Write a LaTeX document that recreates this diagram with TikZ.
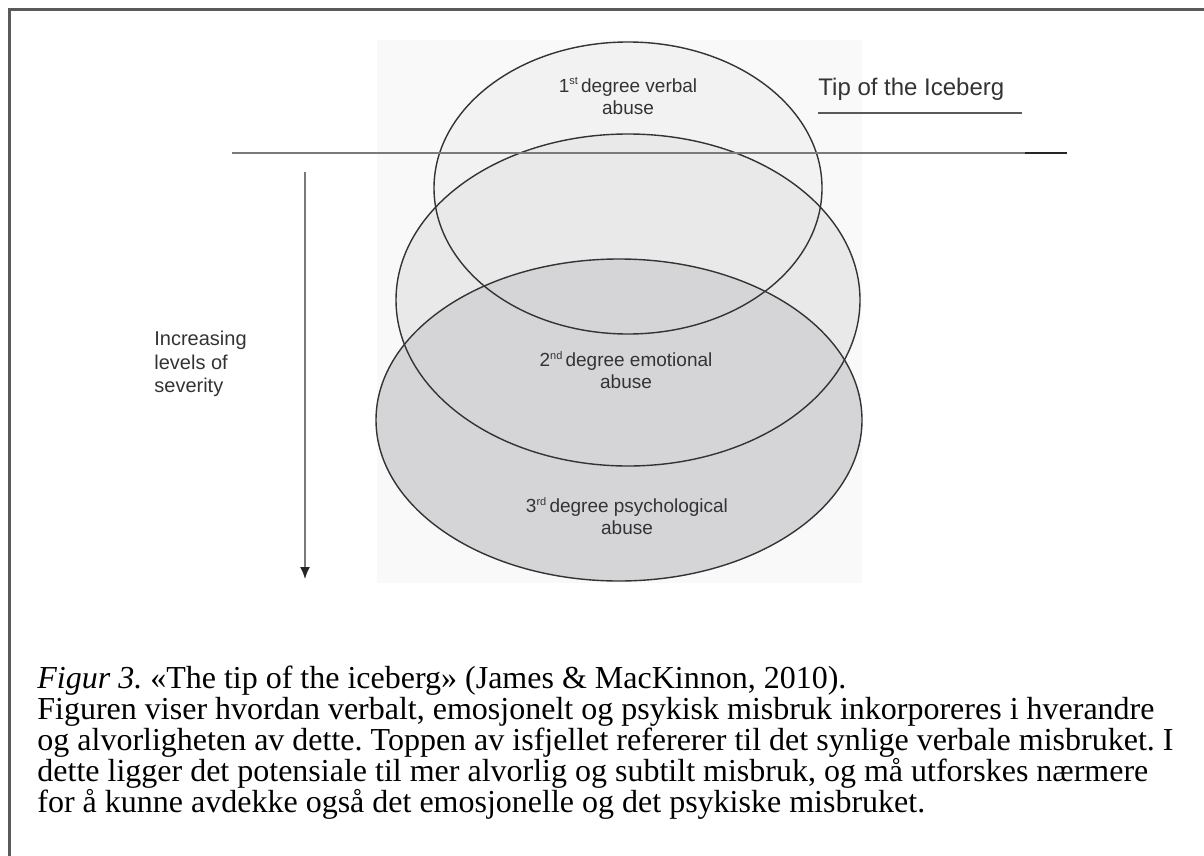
\documentclass[tikz,border=0pt]{standalone}
\usepackage{fontspec}
\setmainfont{Liberation Serif}
\newfontfamily\diagfont{Liberation Sans}
\usetikzlibrary{shapes.geometric,arrows.meta,positioning,calc}

\definecolor{bgbox}{HTML}{F9F9F9}
\definecolor{lvlone}{HTML}{F2F2F2}
\definecolor{lvltwo}{HTML}{E9E9E9}
\definecolor{lvlthree}{HTML}{D5D5D7}
\definecolor{framegray}{HTML}{5A5A5A}
\definecolor{inkgray}{HTML}{333333}
\definecolor{linegray}{HTML}{7A7A7A}

% small raised ordinal suffix
\newcommand{\ordsuf}[1]{\raisebox{0.38em}{\fontsize{5.5}{6}\selectfont #1}\,}

\tikzset{
	abuselevel/.style={ellipse, inner sep=0pt, outer sep=0pt},
	levellabel/.style={font=\diagfont\fontsize{9.5}{11}\selectfont, align=center, text=inkgray, inner sep=0pt},
	sidelabel/.style={font=\diagfont\fontsize{10}{11.75}\selectfont, align=left, text=inkgray, inner sep=0pt},
}

\begin{document}
\frenchspacing
\begin{tikzpicture}[x=0.5pt, y=-0.5pt]
		\useasboundingbox (0,0) rectangle (1204,856) ;
		
		% frame (only top and left edges show)
		\draw[framegray, line width=1.5pt] (9,856) -- (9,10) -- (1204,10) ;
		
		% faint backdrop of the inner picture
		\fill[bgbox] (377,40) rectangle (862,583) ;
		
		\node[abuselevel, fill=lvlone, minimum width=194pt, minimum height=146pt] (one) at (628,188) {} ;
		\node[abuselevel, fill=lvltwo, minimum width=232pt, minimum height=166pt] (two) at (628,300) {} ;
		\node[abuselevel, fill=lvlthree, minimum width=243pt, minimum height=161pt] (three) at (619,420) {} ;
		
		% outlines on top of all fills
		\foreach \e in {one,two,three}
			\draw[inkgray, line width=0.7pt] let \p0=(\e.center), \p1=(\e.east), \p2=(\e.north) in
				(\p0) ellipse ({\x1-\x0} and {\y2-\y0}) ;
		
		\node[levellabel] (lone) at (628,96) {1\ordsuf{st}degree verbal\\abuse} ;
		\node[levellabel] (ltwo) at (626,370) {2\ordsuf{nd}degree emotional\\abuse} ;
		\node[levellabel] (lthree) at (627,516) {3\ordsuf{rd}degree psychological\\abuse} ;
		
		\node[font=\diagfont\fontsize{12}{14}\selectfont, text=inkgray, anchor=base west, inner sep=0pt] (tip) at (818,96) {Tip of the Iceberg} ;
		\coordinate (ulend) at (1022,113) ;
		\draw[framegray, line width=1.4pt] (tip.west |- ulend) -- (ulend) ;
		
		% water surface
		\coordinate (surfleft) at (232,153) ;
		\coordinate (surfmark) at (1025,153) ;
		\coordinate (surfright) at (1067,153) ;
		\draw[linegray, line width=0.8pt] (surfleft) -- (surfmark) ;
		\draw[black!85, line width=1.2pt] (surfmark) -- (surfright) ;
		
		% severity arrow
		\coordinate (sevtop) at (305,172) ;
		\coordinate (sevbot) at (305,579) ;
		\draw[linegray, line width=0.8pt, -{Latex[length=6pt, width=5pt, black!85]}] (sevtop) -- (sevbot) ;
		\node[sidelabel, anchor=west] (sev) at (154,364) {Increasing\\levels of\\severity} ;
		
		\node[anchor=base west, align=left, inner sep=0pt, font=\fontsize{16}{15.5}\selectfont] (caption) at (37,812)
			{\textit{Figur 3.} «The tip of the iceberg» (James \& MacKinnon, 2010).\\
			Figuren viser hvordan verbalt, emosjonelt og psykisk misbruk inkorporeres i hverandre\\
			og alvorligheten av dette. Toppen av isfjellet refererer til det synlige verbale misbruket. I\\
			dette ligger det potensiale til mer alvorlig og subtilt misbruk, og må utforskes nærmere\\
			for å kunne avdekke også det emosjonelle og det psykiske misbruket.} ;
\end{tikzpicture}
\end{document}
